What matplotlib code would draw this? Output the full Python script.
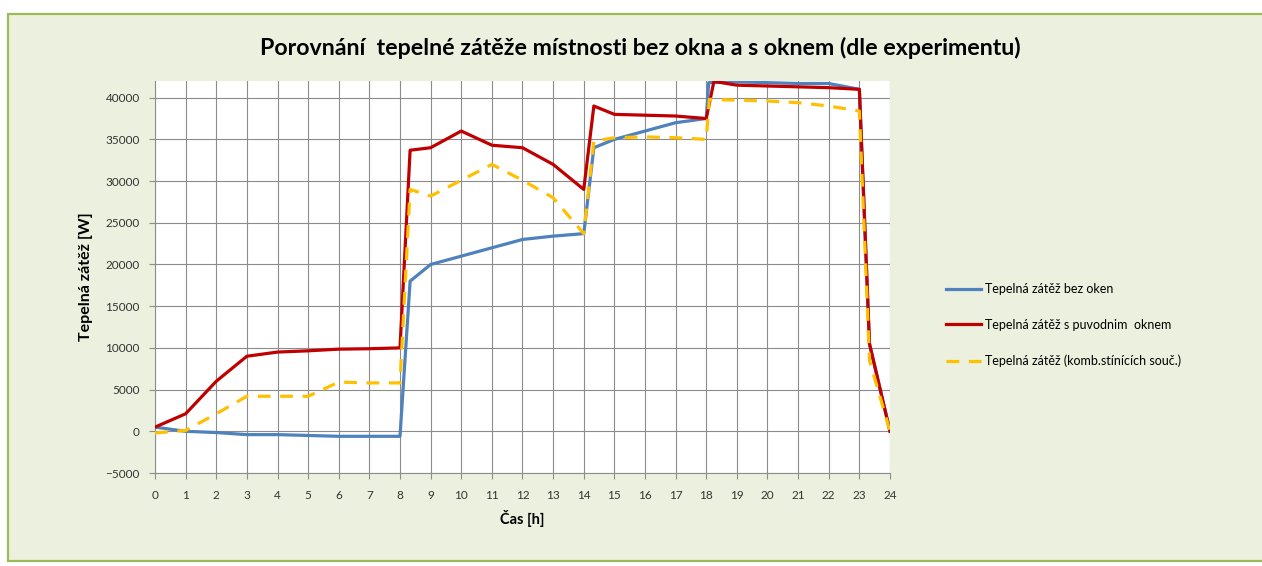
import matplotlib.pyplot as plt
from matplotlib.patches import Rectangle

plt.rcParams['font.family'] = ['Lato', 'DejaVu Sans']

# hourly heat load, three variants (extra points at the step changes)
hours_bez = [0, 1, 2, 3, 4, 5, 6, 7, 8, 8.33, 9, 10, 11, 12, 13, 14, 14.33, 15, 16, 17, 18, 18.08,
             19, 20, 21, 22, 23, 23.33, 24]
zatez_bez = [500, 0, -150, -400, -400, -500, -600, -600, -600, 18000, 20000, 21000, 22000, 23000,
             23400, 23700, 34000, 35000, 36000, 37000, 37500, 41800, 41900, 41800, 41700, 41700,
             41000, 10500, 0]

hours_okno = [0, 1, 2, 3, 4, 5, 6, 7, 8, 8.33, 9, 10, 11, 12, 13, 14, 14.33, 15, 16, 17, 18, 18.25,
              19, 20, 21, 22, 23, 23.33, 24]
zatez_okno = [500, 2100, 6000, 9000, 9500, 9650, 9850, 9900, 10000, 33700, 34000, 36000, 34300,
              34000, 32000, 29000, 39000, 38000, 37900, 37800, 37500, 41950, 41500, 41400, 41300,
              41200, 41000, 10500, 0]

hours_komb = [0, 1, 2, 3, 4, 5, 6, 7, 8, 8.33, 9, 10, 11, 12, 13, 14, 14.33, 15, 16, 17, 18, 18.1,
              19, 20, 21, 22, 23, 23.33, 24]
zatez_komb = [-200, 100, 2100, 4200, 4200, 4200, 5900, 5800, 5800, 29000, 28200, 30100, 32000,
              30100, 28000, 23700, 34800, 35200, 35300, 35200, 35000, 39800, 39700, 39600, 39400,
              39000, 38400, 8500, 0]

labels = ['Tepelná zátěž bez oken',
          'Tepelná zátěž s puvodnim  oknem',
          'Tepelná zátěž (komb.stínících souč.)']

W, H = 1262, 566
fig = plt.figure(figsize=(W / 100, H / 100), dpi=100, facecolor='white')

# chart area background with green border
fig.patches.append(Rectangle((8 / W, 1 - 561 / H), 1.0, (561 - 14) / H,
                             transform=fig.transFigure, facecolor='#EBF1DE',
                             edgecolor='#9BBB59', linewidth=1.6, zorder=-5))

ax = fig.add_axes([155 / W, 1 - 473 / H, (890 - 155) / W, (473 - 81) / H])
ax.set_zorder(2)
ax.set_facecolor('white')

ax.plot(hours_bez, zatez_bez, color='#4F81BD', lw=2.3, label=labels[0], zorder=3)
ax.plot(hours_okno, zatez_okno, color='#C00000', lw=2.3, label=labels[1], zorder=4)
ax.plot(hours_komb, zatez_komb, color='#FFC000', lw=2.3, dashes=(4, 3), label=labels[2], zorder=5)

ax.set_xlim(0, 24)
ax.set_ylim(-5000, 42000)
ax.set_xticks(range(0, 25))
ax.set_yticks(range(-5000, 40001, 5000))
ax.grid(True, color='#8C8C8C', lw=0.8)
ax.set_axisbelow(True)
for s in ['top', 'right']:
    ax.spines[s].set_visible(False)
for s in ['left', 'bottom']:
    ax.spines[s].set_color('#8C8C8C')
ax.tick_params(axis='both', length=4, color='#8C8C8C', labelsize=8.5, labelcolor='#333333')
ax.tick_params(axis='y', pad=7)
ax.tick_params(axis='x', pad=8)

ax.set_xlabel('Čas [h]', fontsize=10.5, fontweight='bold', labelpad=7)
ax.set_ylabel('Tepelná zátěž [W]', fontsize=11.5, fontweight='bold', labelpad=9)

fig.text(640 / W, 1 - 48 / H, 'Porovnání  tepelné zátěže místnosti bez okna a s oknem (dle experimentu)',
         ha='center', va='center', fontsize=16.7, fontweight='bold', color='black')

ax.legend(loc='center left', bbox_to_anchor=(940 / W, 1 - 325 / H), bbox_transform=fig.transFigure,
          frameon=False, fontsize=9, handlelength=2.8, handletextpad=0.3, labelspacing=1.9,
          borderpad=0)

plt.savefig('out.png', dpi=100)
